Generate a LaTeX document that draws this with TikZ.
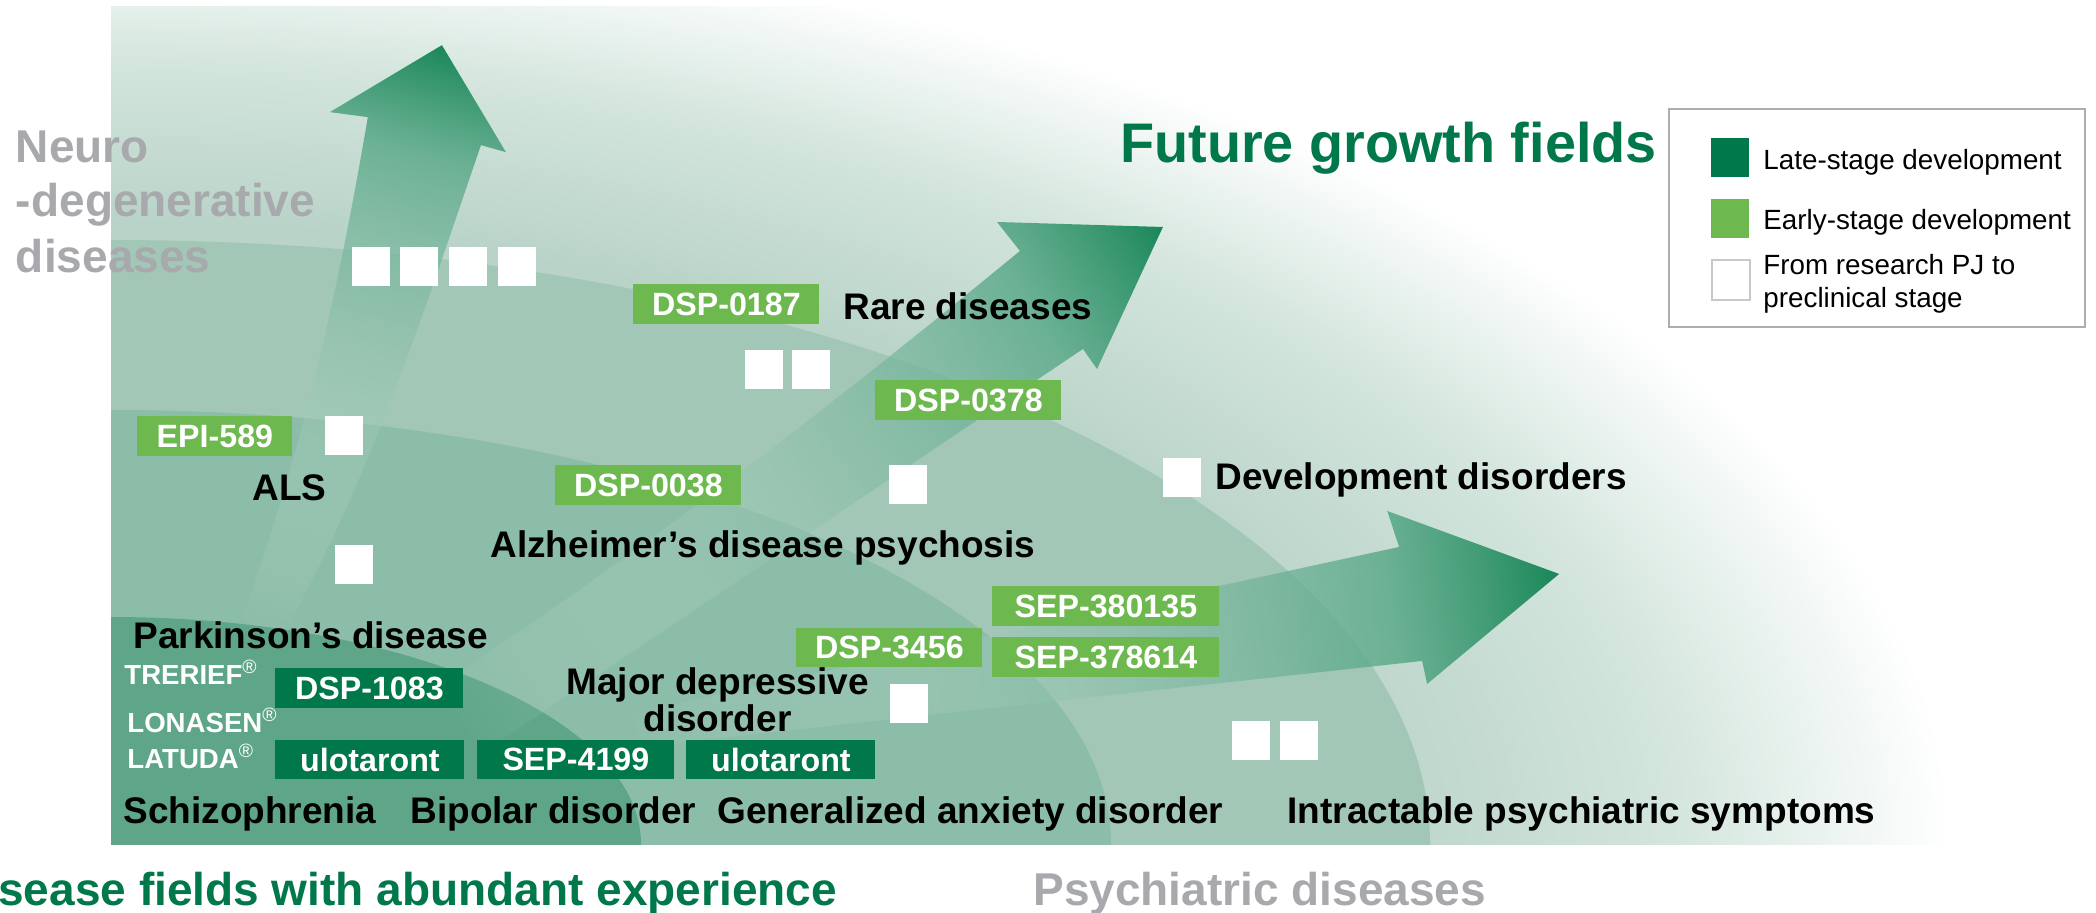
\documentclass[tikz,border=0pt]{standalone}
\usepackage{fontspec}
\setmainfont{Liberation Sans}
\usetikzlibrary{fadings}

\definecolor{lategreen}{HTML}{00784A}
\definecolor{earlygreen}{HTML}{6DB94F}
\definecolor{fieldgray}{HTML}{A7A9AC}
\definecolor{bgbase}{HTML}{B9D3C8}
\definecolor{bgmid}{HTML}{D3E5DD}
\definecolor{ringC}{HTML}{A2C7B7}
\definecolor{ringB}{HTML}{8CBDA8}
\definecolor{ringA}{HTML}{5FA689}
\definecolor{arrowtip}{HTML}{1A8759}
\definecolor{arrowneck}{HTML}{58A887}
\definecolor{arrowbody}{HTML}{8CC0AA}
\definecolor{arrowtail}{HTML}{DCEDE5}
\definecolor{legendframe}{HTML}{ADADAD}
\definecolor{pjedge}{HTML}{C8C8C8}

% background: green near the lower left, fading to white towards the upper right
\pgfdeclareradialshading{bgfade}{\pgfpoint{0bp}{0bp}}{%
  color(0bp)=(bgbase); color(15.5bp)=(bgbase); color(19.5bp)=(bgmid);
  color(23bp)=(white); color(50bp)=(white)}
% growth arrows: pale tail, dark green tip
\pgfdeclarehorizontalshading{arrowshade}{100bp}{%
  color(0bp)=(arrowtail); color(25bp)=(arrowtail); color(50bp)=(arrowbody);
  color(66bp)=(arrowneck); color(75bp)=(arrowtip); color(100bp)=(arrowtip)}
\tikzfading[name=arrowfade, left color=transparent!100,
  middle color=transparent!40, right color=transparent!0]

\tikzset{
  growth/.style={shading=arrowshade, path fading=arrowfade},
  drug/.style={text=white, inner sep=0pt, anchor=north west,
    font=\fontsize{16.1}{19}\selectfont\bfseries},
  late/.style={drug, fill=lategreen},
  early/.style={drug, fill=earlygreen},
  pj/.style={fill=white, inner sep=0pt, minimum width=19pt,
    minimum height=19.5pt, anchor=north west},
  disease/.style={inner sep=0pt, anchor=base west,
    font=\fontsize{18.5}{22}\selectfont\bfseries},
  brand/.style={inner sep=0pt, anchor=base west, text=white,
    font=\fontsize{13.8}{16}\selectfont\bfseries},
  field/.style={inner sep=0pt, anchor=base west, text=fieldgray,
    font=\fontsize{23}{27}\selectfont\bfseries},
  legendtext/.style={inner sep=0pt, anchor=base west,
    font=\fontsize{13.9}{16}\selectfont},
}

\newcommand{\reg}{{\mdseries\textsuperscript{®}}}

\begin{document}
\begin{tikzpicture}[x=0.5pt, y=-0.5pt]
\useasboundingbox (0,0) rectangle (2096,913);

% ---- background panel with concentric bands
\begin{scope}
  \clip (111,7) rectangle (2088,844);
  \shade[shading=bgfade] (-1889,-156) rectangle (2111,1844);
  \fill[ringC] (111,844) ellipse [x radius=1319, y radius=604];
  \fill[ringB] (111,844) ellipse [x radius=1000, y radius=434];
  \fill[ringA] (111,844) ellipse [x radius=530, y radius=227];
\end{scope}

% ---- growth arrows (drawn in a frame where each arrow points along +x)
\begin{scope}[transform canvas={shift={(442,45)}, rotate=75}]
  \shade[growth] (0,0) -- (-86.8,89.5) -- (-86.5,63.6)
    .. controls (-250,52) and (-420,45) .. (-600,2)
    -- (-620,-46) .. controls (-420,-28) and (-250,-38) .. (-88.7,-52.9)
    -- (-93.7,-90.9) -- cycle;
\end{scope}
\begin{scope}[transform canvas={shift={(1163,227)}, rotate=33}]
  \shade[growth] (0,0) -- (-132.7,83.2) -- (-133.5,58.7)
    -- (-850,70) -- (-870,-10)
    .. controls (-620,-10) and (-380,-30) .. (-133,-57.8)
    -- (-136.5,-94.6) -- cycle;
\end{scope}
\begin{scope}[transform canvas={shift={(1559,574)}, rotate=9}]
  \shade[growth] (0,0) -- (-147.6,88) -- (-148.9,64.5)
    -- (-954.8,25.9) -- (-949.6,-6.6) -- (-153.8,-51.7)
    -- (-160,-89.1) -- cycle;
\end{scope}

% ---- titles
\node[inner sep=0pt, anchor=base west, text=lategreen,
  font=\fontsize{27.9}{32}\selectfont\bfseries] (future) at (1120,163) {Future growth fields};
\node[field] (neuro1) at (15.6,163) {Neuro};
\node[field] (neuro2) at (15.6,217) {-degenerative};
\node[field] (neuro3) at (15.6,273) {diseases};
\node[field, text=lategreen] (abundant) at (-48,905) {Disease fields with abundant experience};
\node[field] (psych) at (1033,905) {Psychiatric diseases};

% ---- research projects (white squares)
\node[pj] (pj1) at (352,247) {};
\node[pj] (pj2) at (400,247) {};
\node[pj] (pj3) at (449,247) {};
\node[pj] (pj4) at (498,247) {};
\node[pj] (pj5) at (745,350) {};
\node[pj] (pj6) at (792,350) {};
\node[pj] (pj7) at (325,416) {};
\node[pj] (pj8) at (889,465) {};
\node[pj] (pj9) at (1163,458) {};
\node[pj] (pj10) at (335,545) {};
\node[pj] (pj11) at (890,684) {};
\node[pj] (pj12) at (1232,721) {};
\node[pj] (pj13) at (1280,721) {};

% ---- compounds
\node[early, minimum width=93pt, minimum height=20pt] (dsp0187) at (633,284) {DSP-0187};
\node[early, minimum width=93pt, minimum height=20pt] (dsp0378) at (875,380) {DSP-0378};
\node[early, minimum width=77.5pt, minimum height=20pt] (epi589) at (137,416) {EPI-589};
\node[early, minimum width=93pt, minimum height=20pt] (dsp0038) at (555,465) {DSP-0038};
\node[early, minimum width=93pt, minimum height=19.5pt] (dsp3456) at (796,628) {DSP-3456};
\node[early, minimum width=113.5pt, minimum height=20pt] (sep380135) at (992,586) {SEP-380135};
\node[early, minimum width=113.5pt, minimum height=20pt] (sep378614) at (992,637) {SEP-378614};
\node[late, minimum width=94pt, minimum height=20pt] (dsp1083) at (275,668) {DSP-1083};
\node[late, minimum width=94.5pt, minimum height=19.5pt] (ulo1) at (275,740) {ulotaront};
\node[late, minimum width=98.5pt, minimum height=19.5pt] (sep4199) at (477,740) {SEP-4199};
\node[late, minimum width=94.5pt, minimum height=19.5pt] (ulo2) at (686,740) {ulotaront};

% ---- marketed products
\node[brand] (trerief) at (124,684) {TRERIEF\reg};
\node[brand] (lonasen) at (127,732) {LONASEN\reg};
\node[brand] (latuda) at (127,768) {LATUDA\reg};

% ---- indications
\node[disease] (rare) at (843,320) {Rare diseases};
\node[disease] (als) at (252,501) {ALS};
\node[disease] (devel) at (1215,490) {Development disorders};
\node[disease] (alz) at (490,558) {Alzheimer’s disease psychosis};
\node[disease] (park) at (133,648) {Parkinson’s disease};
\node[disease, anchor=base] (mdd1) at (717.5,694) {Major depressive};
\node[disease, anchor=base] (mdd2) at (717.5,731) {disorder};
\node[disease] (schizo) at (123,823) {Schizophrenia};
\node[disease] (bipolar) at (410,823) {Bipolar disorder};
\node[disease] (gad) at (717,823) {Generalized anxiety disorder};
\node[disease] (intract) at (1287,823) {Intractable psychiatric symptoms};

% ---- legend
\draw[legendframe, line width=1.2pt, fill=white] (1669,109) rectangle (2085,327);
\node[pj, fill=lategreen, minimum height=19.5pt] (keylate) at (1711,138) {};
\node[pj, fill=earlygreen, minimum height=19.5pt] (keyearly) at (1711,199) {};
\node[pj, draw=pjedge, line width=1pt, minimum height=20pt] (keypj) at (1711,259) {};
\node[legendtext] (txtlate) at (1763,170) {Late-stage development};
\node[legendtext] (txtearly) at (1763,230) {Early-stage development};
\node[legendtext] (txtpj1) at (1763,275) {From research PJ to};
\node[legendtext] (txtpj2) at (1763,308) {preclinical stage};
\end{tikzpicture}
\end{document}
